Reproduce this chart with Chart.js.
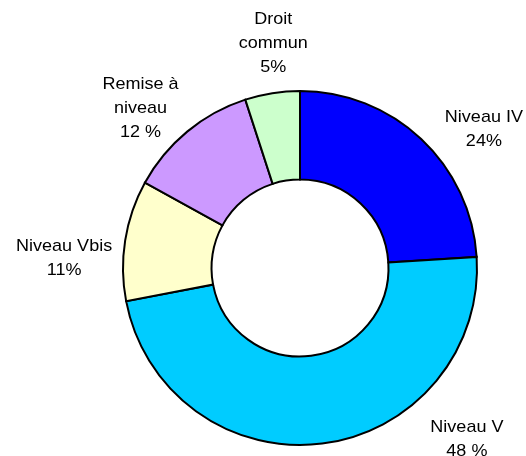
<!DOCTYPE html>
<html>
<head>
<meta charset="utf-8">
<script src="https://cdn.jsdelivr.net/npm/chart.js@4/dist/chart.umd.min.js"></script>
<style>
html,body{margin:0;padding:0;background:#fff;}
#wrap{width:526px;height:456px;position:relative;}
</style>
</head>
<body>
<div id="wrap"><canvas id="c" width="526" height="456"></canvas></div>
<script>
// Data
const categories = [['Niveau IV'], ['Niveau V'], ['Niveau Vbis'], ['Remise à', 'niveau'], ['Droit', 'commun']];
const values = [24, 48, 11, 12, 5];
const percentLabels = ['24%', '48 %', '11%', '12 %', '5%'];
const sliceColors = ['#0000FF', '#00CCFF', '#FFFFCC', '#CC99FF', '#CCFFCC'];

// label placement: [angle clockwise from top in degrees, distance as fraction of outer radius]
const labelPlacement = [[53.0, 1.301], [135.7, 1.350], [272.4, 1.334], [315.1, 1.276], [353.2, 1.280]];

const outerLabels = {
  id: 'outerLabels',
  afterDatasetsDraw(chart) {
    const ctx = chart.ctx;
    const meta = chart.getDatasetMeta(0);
    ctx.save();
    ctx.fillStyle = '#000';
    ctx.font = '17px "Liberation Sans", Arial, sans-serif';
    ctx.textAlign = 'center';
    ctx.textBaseline = 'middle';
    const lineH = 24;
    const sx = 1.06;
    meta.data.forEach((arc, i) => {
      const p = labelPlacement[i];
      const a = p[0] * Math.PI / 180;
      const r = arc.outerRadius * p[1];
      const cx = arc.x + r * Math.sin(a);
      const cy = arc.y - r * Math.cos(a);
      const lines = categories[i].concat([percentLabels[i]]);
      const y0 = cy - (lines.length - 1) * lineH / 2;
      lines.forEach((t, k) => {
        ctx.save();
        ctx.translate(cx, y0 + k * lineH);
        ctx.scale(sx, 1);
        ctx.fillText(t, 0, 0);
        ctx.restore();
      });
    });
    ctx.restore();
  }
};

new Chart(document.getElementById('c'), {
  type: 'doughnut',
  data: {
    labels: categories,
    datasets: [{
      data: values,
      backgroundColor: sliceColors,
      borderColor: '#000000',
      borderWidth: 2,
      borderJoinStyle: 'miter'
    }]
  },
  options: {
    responsive: false,
    animation: false,
    cutout: '50%',
    rotation: 0,
    layout: { padding: { left: 122, right: 48, top: 90, bottom: 10 } },
    plugins: {
      legend: { display: false },
      tooltip: { enabled: false }
    }
  },
  plugins: [outerLabels]
});
</script>
</body>
</html>
